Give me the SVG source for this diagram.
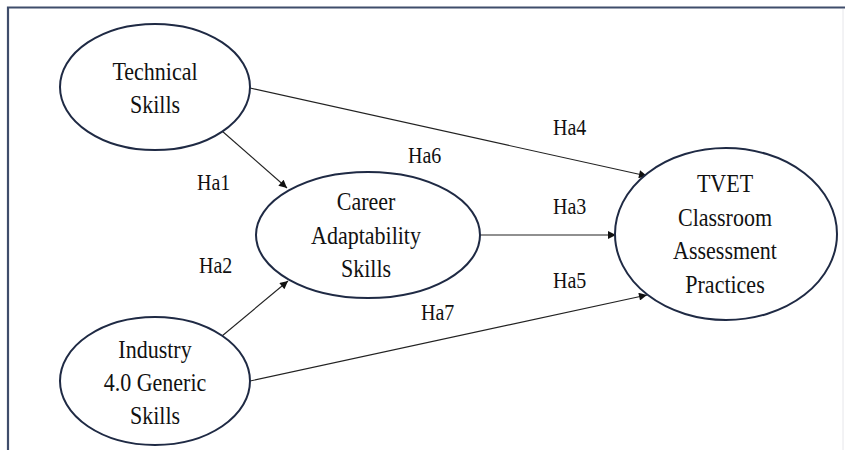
<svg xmlns="http://www.w3.org/2000/svg" width="845" height="450" viewBox="0 0 845 450">
<defs>
<marker id="arr" viewBox="0 0 10 10" refX="10" refY="5" markerWidth="10" markerHeight="8" markerUnits="userSpaceOnUse" orient="auto">
<path d="M0,0 L10,5 L0,10 Z" fill="#111"/>
</marker>
<style>
.node{fill:#fff;stroke:#1f2a44;stroke-width:2}
.t{font-family:"Liberation Serif","Times New Roman",serif;font-size:22px;fill:#111;text-anchor:middle}
.lbl{font-family:"Liberation Serif","Times New Roman",serif;font-size:20px;fill:#111}
.c{stroke:#222;stroke-width:1.1;fill:none;marker-end:url(#arr)}
</style>
</defs>
<rect width="845" height="450" fill="#fff"/>
<path d="M8,450 V7.5 H845" fill="none" stroke="#3f4d6b" stroke-width="2.2"/>
<line x1="843" y1="9" x2="843" y2="450" stroke="#e6e6ea" stroke-width="1"/>
<g id="connectors">
<line class="c" x1="222" y1="131" x2="287" y2="188"/>
<line class="c" x1="250" y1="88" x2="647" y2="176"/>
<line class="c" x1="480" y1="235" x2="616" y2="235"/>
<line class="c" x1="222" y1="336" x2="288" y2="281"/>
<line class="c" x1="250" y1="381" x2="647" y2="295"/>
</g>
<g id="technical">
<ellipse class="node" cx="155" cy="87" rx="95" ry="63"/>
<text class="t" transform="translate(155,80) scale(1,1.16)">Technical</text>
<text class="t" transform="translate(155,113) scale(1,1.16)">Skills</text>
</g>
<g id="industry">
<ellipse class="node" cx="155" cy="381" rx="95" ry="64"/>
<text class="t" transform="translate(155,358) scale(1,1.16)">Industry</text>
<text class="t" transform="translate(155,391) scale(1,1.16)">4.0 Generic</text>
<text class="t" transform="translate(155,424) scale(1,1.16)">Skills</text>
</g>
<g id="career">
<ellipse class="node" cx="368" cy="235" rx="112" ry="63"/>
<text class="t" transform="translate(366,210) scale(1,1.16)">Career</text>
<text class="t" transform="translate(366,244) scale(1,1.16)">Adaptability</text>
<text class="t" transform="translate(366,277) scale(1,1.16)">Skills</text>
</g>
<g id="tvet">
<ellipse class="node" cx="726" cy="234" rx="111" ry="86"/>
<text class="t" transform="translate(725,192) scale(1,1.16)">TVET</text>
<text class="t" transform="translate(725,226) scale(1,1.16)">Classroom</text>
<text class="t" transform="translate(725,259) scale(1,1.16)">Assessment</text>
<text class="t" transform="translate(725,293) scale(1,1.16)">Practices</text>
</g>
<g id="labels">
<text class="lbl" transform="translate(197,190) scale(1,1.14)">Ha1</text>
<text class="lbl" transform="translate(199,273) scale(1,1.14)">Ha2</text>
<text class="lbl" transform="translate(408,163) scale(1,1.14)">Ha6</text>
<text class="lbl" transform="translate(553,135) scale(1,1.14)">Ha4</text>
<text class="lbl" transform="translate(553,214) scale(1,1.14)">Ha3</text>
<text class="lbl" transform="translate(553,288) scale(1,1.14)">Ha5</text>
<text class="lbl" transform="translate(421,320) scale(1,1.14)">Ha7</text>
</g>
</svg>
